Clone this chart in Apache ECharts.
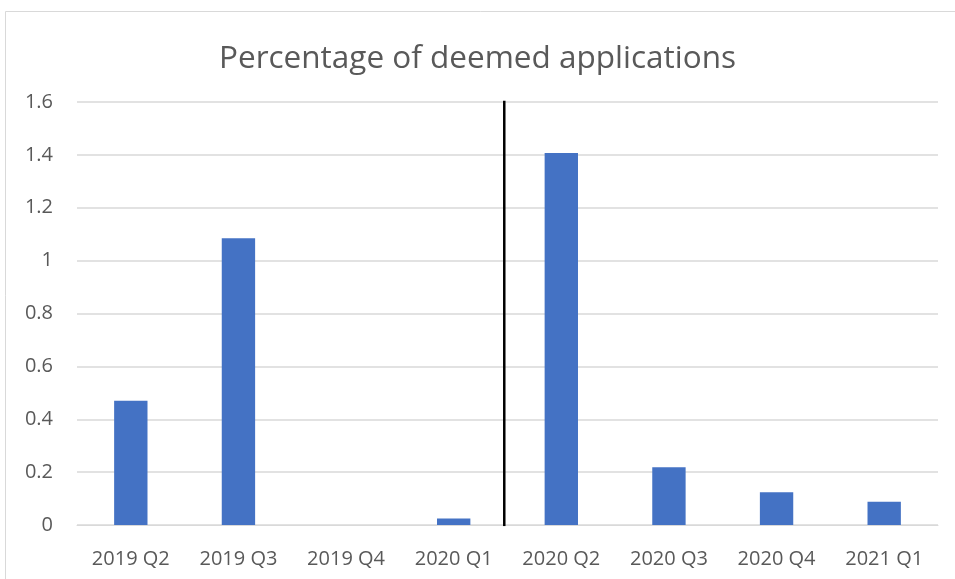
<!DOCTYPE html>
<html>
<head>
<meta charset="utf-8">
<script src="https://cdn.jsdelivr.net/npm/echarts@6/dist/echarts.min.js"></script>
<style>
  html, body { margin: 0; padding: 0; background: #fff; }
  #chart { width: 955px; height: 579px; }
</style>
</head>
<body>
<div id="chart"></div>
<script>
const categories = ["2019 Q2", "2019 Q3", "2019 Q4", "2020 Q1", "2020 Q2", "2020 Q3", "2020 Q4", "2021 Q1"];
const deemedPct = [0.47, 1.085, 0, 0.025, 1.407, 0.218, 0.124, 0.088];
const yTicks = [0, 0.2, 0.4, 0.6, 0.8, 1, 1.2, 1.4, 1.6];
// divider between 2020 Q1 and 2020 Q2, in category band units
const dividerX = [3.97, 3.97];
const dividerY = [-0.005, 1.61];

const textColor = "#595959";
const font = "'Open Sans', Lato, sans-serif";

const chart = echarts.init(document.getElementById("chart"));
chart.setOption({
  animation: false,
  backgroundColor: "#fff",
  title: {
    text: "Percentage of deemed applications",
    left: "center",
    top: 38,
    textStyle: { color: textColor, fontSize: 31.5, fontWeight: "normal", fontFamily: font }
  },
  graphic: [{
    type: "rect",
    shape: { x: 5.5, y: 11.5, width: 1000, height: 1000 },
    style: { fill: "none", stroke: "#d9d9d9", lineWidth: 1 },
    silent: true
  }],
  grid: { left: 77, right: 17, top: 102, bottom: 54 },
  xAxis: [{
    type: "category",
    data: categories,
    axisLine: { lineStyle: { color: "#d9d9d9", width: 1 } },
    axisTick: { show: false },
    axisLabel: { color: textColor, fontSize: 20, fontFamily: font, margin: 24 }
  }, {
    type: "value",
    min: 0,
    max: categories.length,
    show: false
  }],
  yAxis: [{
    type: "value",
    min: 0,
    max: 1.6,
    interval: 0.2,
    axisLine: { show: false },
    axisTick: { show: false },
    splitLine: { lineStyle: { color: "#d9d9d9", width: 1.5 } },
    axisLabel: {
      color: textColor, fontSize: 20, fontFamily: font, margin: 24,
      formatter: (v) => {
        const t = yTicks.find((x) => Math.abs(x - v) < 1e-9);
        return String(Math.round((t ?? v) * 10) / 10);
      }
    }
  }],
  series: [{
    type: "bar",
    data: deemedPct,
    barWidth: "31%",
    itemStyle: { color: "#4472c4" },
    z: 2
  }, {
    type: "line",
    xAxisIndex: 1,
    data: dividerX.map((x, i) => [x, dividerY[i]]),
    symbol: "none",
    lineStyle: { color: "#000", width: 2.5 },
    z: 3
  }]
});
</script>
</body>
</html>
